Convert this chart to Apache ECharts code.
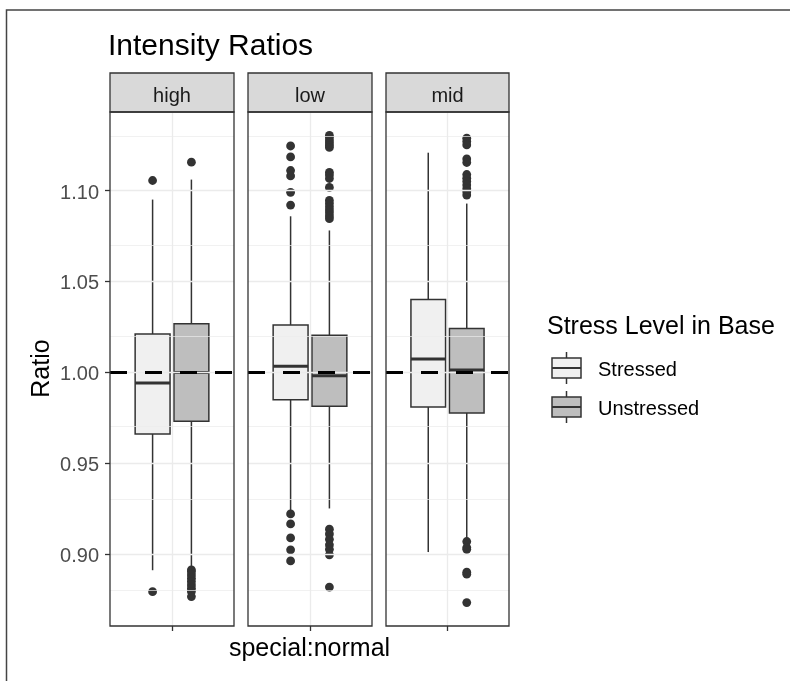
<!DOCTYPE html>
<html><head><meta charset="utf-8">
<script src="https://cdn.jsdelivr.net/npm/echarts@6/dist/echarts.min.js"></script>
<style>html,body{margin:0;padding:0;background:#fff}#c{width:790px;height:681px}</style>
</head><body><div id="c"></div>
<script>
// ---------------- data ----------------
const panels = ['high', 'low', 'mid'];
const groups = ['Stressed', 'Unstressed'];
const xCategory = ['special:normal'];
const yTicks = [0.90, 0.95, 1.00, 1.05, 1.10];
const yMinorTicks = [0.875, 0.925, 0.975, 1.025, 1.075, 1.125];
const referenceLine = 1.00;
const yRange = [0.8603, 1.1432];
// [lowerWhisker, Q1, median, Q3, upperWhisker] per panel (high, low, mid)
const stressedStats = [
  [0.891, 0.966, 0.994, 1.021, 1.095],
  [0.924, 0.9848, 1.0032, 1.026, 1.0858],
  [0.901, 0.9808, 1.0073, 1.040, 1.1208]
];
const unstressedStats = [
  [0.893, 0.973, 0.9998, 1.0266, 1.106],
  [0.925, 0.9812, 0.998, 1.0203, 1.078],
  [0.9085, 0.9775, 1.0012, 1.024, 1.0928]
];
const stressedOutliers = [
  [1.1055, 0.8792],
  [1.1245, 1.1185, 1.111, 1.108, 1.099, 1.092, 0.922, 0.9165, 0.9088, 0.9022, 0.8961],
  []
];
const unstressedOutliers = [
  [1.1156, 0.8912, 0.8902, 0.8884, 0.8866, 0.8848, 0.8829, 0.8811, 0.8793, 0.8765],
  [1.1303, 1.129, 1.1275, 1.1262, 1.1248, 1.1237, 1.110, 1.1085, 1.1066, 1.1017,
   1.0945, 1.0928, 1.091, 1.0893, 1.0877, 1.086, 1.0845,
   0.9136, 0.911, 0.908, 0.905, 0.9025, 0.8995, 0.8817],
  [1.1288, 1.127, 1.1251, 1.1174, 1.1154, 1.1088, 1.1068, 1.105, 1.103, 1.101, 1.0993, 1.0975,
   0.9068, 0.9035, 0.9025, 0.8899, 0.8888, 0.8732]
];

// ---------------- layout / style ----------------
const FONT = "'Liberation Sans', Arial, sans-serif";
const panelLeft = [110, 248, 386];
const panelWidth = [124, 124, 123];
const panelTop = 112, panelHeight = 514, stripTop = 73;
const fills = ['#F0F0F0', '#BEBEBE'];
const dodge = [-0.1565, 0.1565];
const boxFrac = 0.2815;
const INK = '#333333';

function boxRenderer(offsetFrac, fill) {
  return function (params, api) {
    const c = api.value(0);
    const band = api.size([1, 0])[0];
    const x = api.coord([c, api.value(1)])[0] + offsetFrac * band;
    const hw = boxFrac * band / 2;
    const yLo = api.coord([c, api.value(1)])[1];
    const yQ1 = api.coord([c, api.value(2)])[1];
    const yMed = api.coord([c, api.value(3)])[1];
    const yQ3 = api.coord([c, api.value(4)])[1];
    const yHi = api.coord([c, api.value(5)])[1];
    const ln = { stroke: INK, lineWidth: 1.5 };
    return {
      type: 'group', children: [
        { type: 'line', shape: { x1: x, y1: yQ3, x2: x, y2: yHi }, style: ln },
        { type: 'line', shape: { x1: x, y1: yQ1, x2: x, y2: yLo }, style: ln },
        { type: 'rect', shape: { x: x - hw, y: yQ3, width: 2 * hw, height: yQ1 - yQ3 },
          style: { fill: fill, stroke: INK, lineWidth: 1.5 } },
        { type: 'line', shape: { x1: x - hw, y1: yMed, x2: x + hw, y2: yMed },
          style: { stroke: INK, lineWidth: 3 } }
      ]
    };
  };
}
function outlierRenderer(offsetFrac) {
  return function (params, api) {
    const c = api.value(0);
    const band = api.size([1, 0])[0];
    const p = api.coord([c, api.value(1)]);
    return { type: 'circle', shape: { cx: p[0] + offsetFrac * band, cy: p[1], r: 4.4 },
      style: { fill: INK } };
  };
}

const grids = [], xAxes = [], yAxes = [], series = [], graphics = [];
const statsByGroup = [stressedStats, unstressedStats];
const outByGroup = [stressedOutliers, unstressedOutliers];

panels.forEach(function (pn, i) {
  grids.push({ left: panelLeft[i], top: panelTop, width: panelWidth[i], height: panelHeight, show: false });
  xAxes.push({
    gridIndex: i, type: 'category', data: xCategory, boundaryGap: true,
    axisLine: { show: false, onZero: false },
    axisTick: { show: true, alignWithLabel: true, length: 5, lineStyle: { color: INK, width: 1.3 } },
    axisLabel: { show: false }, splitLine: { show: false }
  });
  yAxes.push({
    gridIndex: i, type: 'value', min: yRange[0], max: yRange[1],
    axisLine: { show: false },
    axisTick: { show: i === 0, length: 5, customValues: yTicks, lineStyle: { color: INK, width: 1.3 } },
    axisLabel: { show: i === 0, customValues: yTicks, margin: 11, color: '#4D4D4D', fontSize: 20,
      verticalAlign: 'top', lineHeight: 5,
      fontFamily: FONT, formatter: function (v) { return v.toFixed(2); } },
    splitLine: { show: false }
  });
  // grid lines
  const gridLines = [];
  yMinorTicks.forEach(function (v) { gridLines.push({ yAxis: v, lineStyle: { color: '#EBEBEB', width: 0.7, type: 'solid' } }); });
  yTicks.forEach(function (v) { gridLines.push({ yAxis: v, lineStyle: { color: '#EBEBEB', width: 1.3, type: 'solid' } }); });
  gridLines.push({ xAxis: xCategory[0], lineStyle: { color: '#EBEBEB', width: 1.3, type: 'solid' } });
  series.push({
    type: 'line', xAxisIndex: i, yAxisIndex: i, data: [], z: 1, silent: true,
    markLine: { silent: true, symbol: ['none', 'none'], label: { show: false }, animation: false, data: gridLines }
  });
  groups.forEach(function (g, k) {
    series.push({
      name: g, type: 'custom', xAxisIndex: i, yAxisIndex: i, z: 3,
      renderItem: boxRenderer(dodge[k], fills[k]),
      encode: { x: 0, y: [1, 2, 3, 4, 5] },
      data: [[0].concat(statsByGroup[k][i])]
    });
    series.push({
      name: g, type: 'custom', xAxisIndex: i, yAxisIndex: i, z: 4,
      renderItem: outlierRenderer(dodge[k]),
      encode: { x: 0, y: 1 },
      data: outByGroup[k][i].map(function (v) { return [0, v]; })
    });
  });
  series.push({
    type: 'line', xAxisIndex: i, yAxisIndex: i, data: [], z: 6, silent: true,
    markLine: { silent: true, symbol: ['none', 'none'], label: { show: false }, animation: false,
      data: [{ yAxis: referenceLine, lineStyle: { color: '#000', width: 3, type: [17, 18] } }] }
  });
  // strip + border
  graphics.push({ type: 'rect', z: 50, shape: { x: panelLeft[i], y: stripTop, width: panelWidth[i], height: panelTop - stripTop },
    style: { fill: '#D9D9D9', stroke: INK, lineWidth: 1.3 } });
  graphics.push({ type: 'text', z: 51, x: panelLeft[i] + panelWidth[i] / 2, y: 96,
    style: { text: pn, fill: '#1A1A1A', font: '20px ' + FONT, textAlign: 'center', textVerticalAlign: 'middle' } });
  graphics.push({ type: 'rect', z: 50, shape: { x: panelLeft[i], y: panelTop, width: panelWidth[i], height: panelHeight },
    style: { fill: null, stroke: INK, lineWidth: 1.3 } });
});

// titles
graphics.push({ type: 'text', z: 51, x: 108, y: 46.5,
  style: { text: 'Intensity Ratios', fill: '#000', font: '30px ' + FONT, textAlign: 'left', textVerticalAlign: 'middle' } });
graphics.push({ type: 'text', z: 51, x: 309.5, y: 649,
  style: { text: 'special:normal', fill: '#000', font: '25px ' + FONT, textAlign: 'center', textVerticalAlign: 'middle' } });
graphics.push({ type: 'text', z: 51, x: 42, y: 368.5, rotation: Math.PI / 2,
  style: { text: 'Ratio', fill: '#000', font: '25px ' + FONT, textAlign: 'center', textVerticalAlign: 'middle' } });
// legend
graphics.push({ type: 'text', z: 51, x: 547, y: 327.5,
  style: { text: 'Stress Level in Base', fill: '#000', font: '25px ' + FONT, textAlign: 'left', textVerticalAlign: 'middle' } });
const keyTop = [358, 397];
groups.forEach(function (g, k) {
  const t = keyTop[k], cx = 566.5;
  graphics.push({ type: 'line', z: 51, shape: { x1: cx, y1: t - 6, x2: cx, y2: t + 26 }, style: { stroke: INK, lineWidth: 1.5 } });
  graphics.push({ type: 'rect', z: 52, shape: { x: 552, y: t, width: 29, height: 20 }, style: { fill: fills[k], stroke: INK, lineWidth: 1.5 } });
  graphics.push({ type: 'line', z: 53, shape: { x1: 552, y1: t + 10, x2: 581, y2: t + 10 }, style: { stroke: INK, lineWidth: 2 } });
  graphics.push({ type: 'text', z: 51, x: 598, y: t + 12.5,
    style: { text: g, fill: '#000', font: '20px ' + FONT, textAlign: 'left', textVerticalAlign: 'middle' } });
});
// outer frame
graphics.push({ type: 'rect', z: 60, shape: { x: 6.5, y: 10, width: 1000, height: 1000 },
  style: { fill: null, stroke: '#444', lineWidth: 1.5 } });

const chart = echarts.init(document.getElementById('c'), null, { renderer: 'canvas' });
chart.setOption({
  animation: false,
  backgroundColor: '#fff',
  textStyle: { fontFamily: FONT },
  grid: grids, xAxis: xAxes, yAxis: yAxes, series: series,
  graphic: { elements: graphics }
});
</script></body></html>
